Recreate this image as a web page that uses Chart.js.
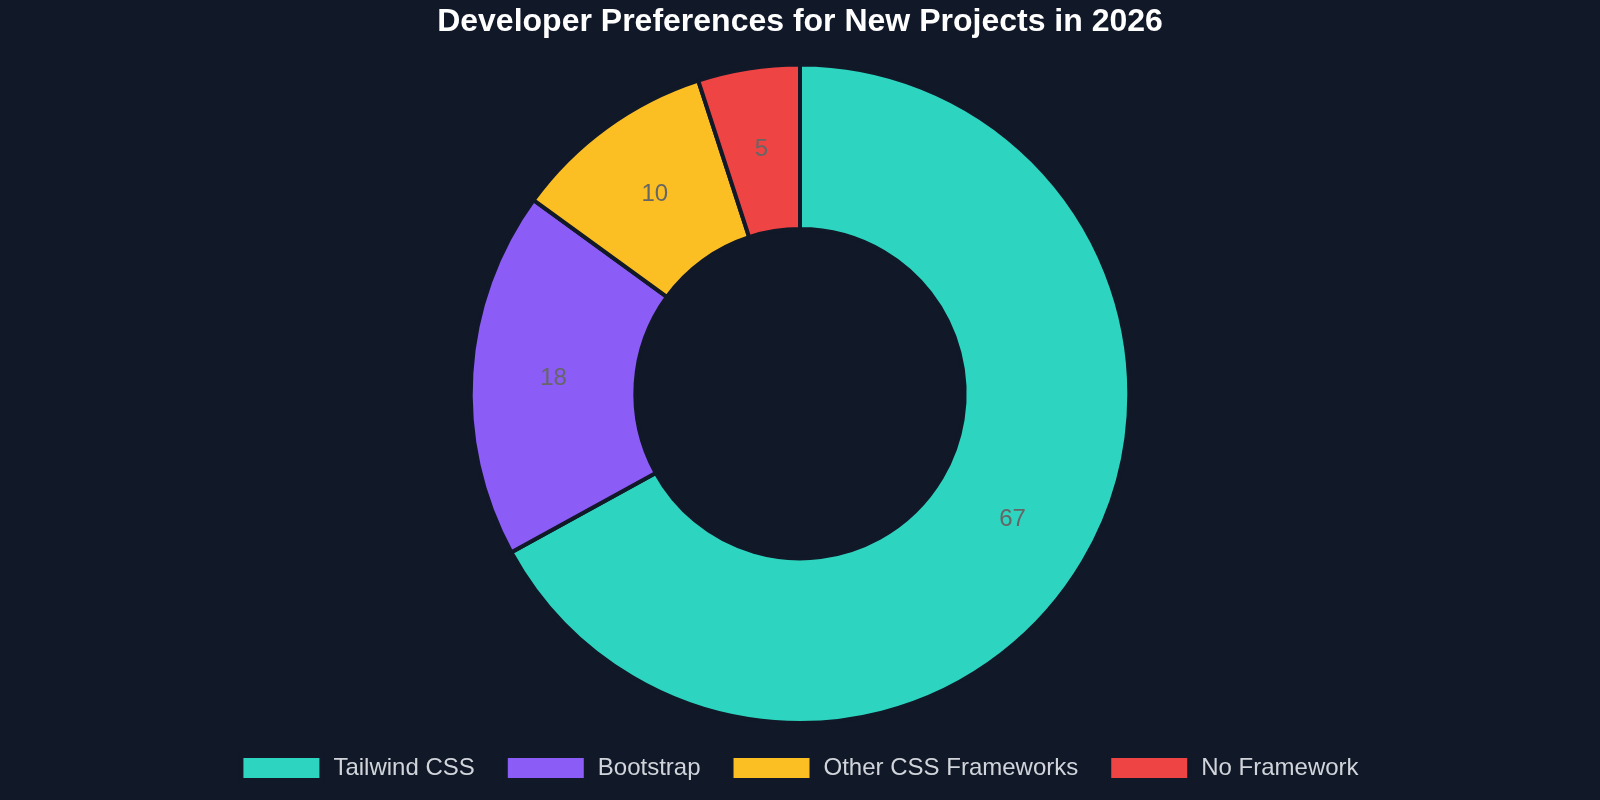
<!DOCTYPE html>
<html>
<head>
<meta charset="utf-8">
<script src="https://cdn.jsdelivr.net/npm/chart.js@4"></script>
<style>
  html, body { margin: 0; padding: 0; background: #111827; }
  #wrap { width: 1600px; height: 800px; }
</style>
</head>
<body>
<div id="wrap"><canvas id="myChart" width="1600" height="800"></canvas></div>
<script>
var labels = ['Tailwind CSS', 'Bootstrap', 'Other CSS Frameworks', 'No Framework'];
var shares = [67, 18, 10, 5];
var colors = ['#2dd4bf', '#8b5cf6', '#fbbf24', '#ef4444'];

// values written in the middle of each slice
var sliceLabels = {
    id: 'sliceLabels',
    afterDatasetsDraw: function (chart) {
        var c = chart.ctx;
        var meta = chart.getDatasetMeta(0);
        c.save();
        c.font = '24px "Liberation Sans", Arial, sans-serif';
        c.fillStyle = '#666666';
        c.textAlign = 'center';
        c.textBaseline = 'middle';
        meta.data.forEach(function (arc, i) {
            var p = arc.tooltipPosition();
            c.fillText(String(chart.data.datasets[0].data[i]), p.x, p.y);
        });
        c.restore();
    }
};

var ctx = document.getElementById('myChart').getContext('2d');
var myChart = new Chart(ctx, {
    type: 'doughnut',
    data: {
        labels: labels,
        datasets: [{
            label: 'Share',
            data: shares,
            backgroundColor: colors,
            borderColor: '#111827',
            borderWidth: 4,
            hoverOffset: 0
        }]
    },
    options: {
        responsive: false,
        animation: false,
        cutout: '50%',
        layout: { padding: { top: 0, bottom: 10 } },
        plugins: {
            title: {
                display: true,
                text: 'Developer Preferences for New Projects in 2026',
                color: '#ffffff',
                font: { family: '"Liberation Sans", Arial, sans-serif', size: 32, weight: 'bold' },
                padding: { top: 3, bottom: 21 }
            },
            legend: {
                display: true,
                position: 'bottom',
                labels: {
                    color: '#d1d5db',
                    boxWidth: 80,
                    boxHeight: 24,
                    padding: 31,
                    font: { family: '"Liberation Sans", Arial, sans-serif', size: 24 }
                }
            },
            tooltip: { enabled: false }
        }
    },
    plugins: [sliceLabels]
});
</script>
</body>
</html>
